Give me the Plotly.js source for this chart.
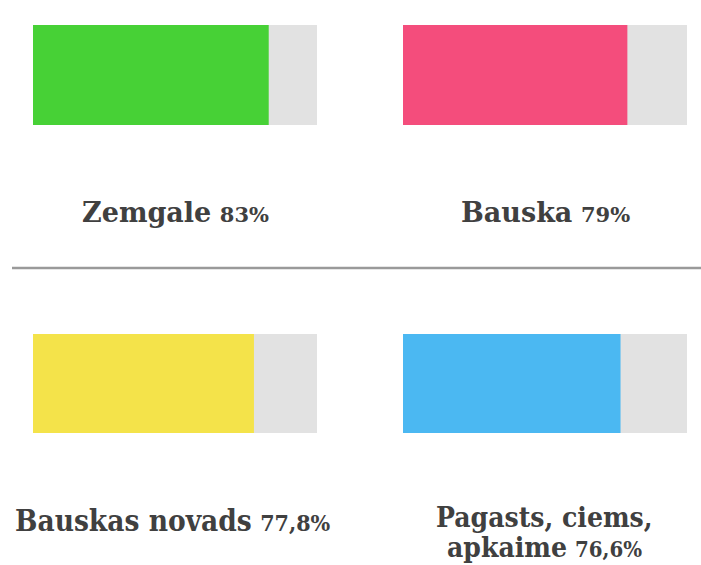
<!DOCTYPE html>
<html><head><meta charset="utf-8">
<script src="https://cdn.plot.ly/plotly-3.0.1.min.js"></script>
<style>html,body{margin:0;padding:0;background:#fff;}</style>
</head><body>
<div id="chart" style="width:701px;height:565px;"></div>
<script>
const categories = ["Zemgale", "Bauska", "Bauskas novads", "Pagasts, ciems,<br>apkaime"];
const values = [83, 79, 77.8, 76.6];
const valueLabels = ["83%", "79%", "77,8%", "76,6%"];
const colors = ["#47d136", "#f44d7c", "#f4e34a", "#4bb8f2"];
const trackMax = 100;

const W = 701, H = 565;
const px = v => v / W;
const py = v => 1 - v / H;

const cells = [
  {x0: 33, x1: 317, y0: 25, y1: 125, lx: 175, ly: 212, font: "DejaVu Serif", size: 27, psize: 21},
  {x0: 403, x1: 687, y0: 25, y1: 125, lx: 545, ly: 212, font: "DejaVu Serif", size: 27, psize: 21},
  {x0: 33, x1: 317, y0: 334, y1: 433, lx: 173, ly: 520, font: "DejaVu Serif Condensed", size: 29.5, psize: 23},
  {x0: 403, x1: 687, y0: 334, y1: 433, lx: 544, ly: 517, font: "DejaVu Serif Condensed", size: 28, psize: 22}
];
const lineGap = 30;

const traces = [];
const layout = {
  width: W, height: H,
  margin: {l: 0, r: 0, t: 0, b: 0},
  paper_bgcolor: "#fff", plot_bgcolor: "#fff",
  showlegend: false, barmode: "overlay",
  annotations: [], shapes: []
};

categories.forEach((c, i) => {
  const n = i === 0 ? "" : String(i + 1);
  const xa = "x" + n, ya = "y" + n;
  const cell = cells[i];
  traces.push({type: "bar", orientation: "h", x: [trackMax], y: [0], width: 1,
    marker: {color: "#e2e2e2"}, xaxis: xa, yaxis: ya, hoverinfo: "skip"});
  traces.push({type: "bar", orientation: "h", x: [values[i]], y: [0], width: 1,
    marker: {color: colors[i]}, xaxis: xa, yaxis: ya, hoverinfo: "skip"});
  layout["xaxis" + n] = {domain: [px(cell.x0), px(cell.x1)], range: [0, trackMax],
    visible: false, fixedrange: true, anchor: ya};
  layout["yaxis" + n] = {domain: [py(cell.y1), py(cell.y0)], range: [-0.5, 0.5],
    visible: false, fixedrange: true, anchor: xa};
  const lines = c.split("<br>");
  lines.forEach((ln, j) => {
    const last = j === lines.length - 1;
    let t = "<b>" + ln + "</b>";
    if (last) t += " <b><span style='font-size:" + cell.psize + "px'>" + valueLabels[i] + "</span></b>";
    layout.annotations.push({
      xref: "paper", yref: "paper", x: px(cell.lx), y: py(cell.ly + j * lineGap),
      xanchor: "center", yanchor: "middle", showarrow: false, align: "center",
      text: t,
      font: {family: cell.font, size: cell.size, color: "#404040"}
    });
  });
});

layout.shapes.push({type: "line", xref: "paper", yref: "paper",
  x0: px(12), x1: 1, y0: py(268), y1: py(268), line: {color: "#9a9a9a", width: 2.5}});

Plotly.newPlot("chart", traces, layout, {displayModeBar: false, staticPlot: true});
</script>
</body></html>
